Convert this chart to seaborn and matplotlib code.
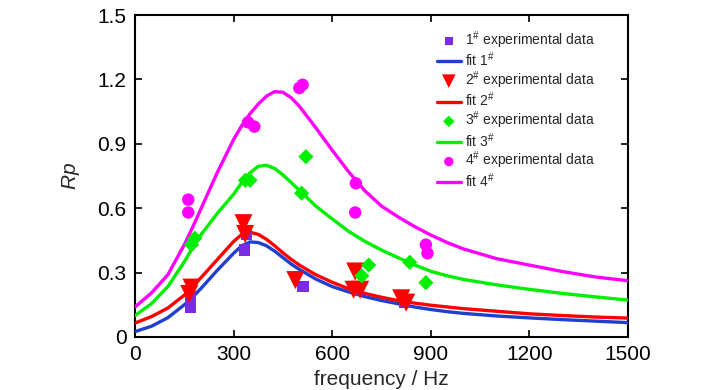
import numpy as np
import pandas as pd
import matplotlib
matplotlib.use("Agg")
import matplotlib.pyplot as plt
import seaborn as sns

# ---- data ----
fit_freq = [0, 50, 100, 150, 175, 200, 250, 300, 325, 350, 375, 400, 425, 450, 475, 500,
            550, 600, 650, 700, 750, 800, 850, 900, 950, 1000, 1100, 1200, 1300, 1400, 1500]
fit1 = [0.025, 0.05, 0.09, 0.15, 0.185, 0.225, 0.31, 0.39, 0.425, 0.443, 0.44, 0.425, 0.40,
        0.37, 0.34, 0.315, 0.27, 0.235, 0.21, 0.188, 0.17, 0.155, 0.14, 0.128, 0.118, 0.11,
        0.098, 0.089, 0.081, 0.074, 0.067]
fit2 = [0.065, 0.095, 0.135, 0.195, 0.235, 0.275, 0.36, 0.445, 0.478, 0.488, 0.478, 0.455,
        0.425, 0.392, 0.362, 0.335, 0.29, 0.255, 0.225, 0.203, 0.185, 0.17, 0.158, 0.148,
        0.14, 0.132, 0.12, 0.108, 0.10, 0.093, 0.088]
fit3 = [0.10, 0.155, 0.235, 0.35, 0.415, 0.475, 0.575, 0.665, 0.72, 0.765, 0.795, 0.80, 0.785,
        0.755, 0.72, 0.683, 0.61, 0.55, 0.492, 0.445, 0.405, 0.37, 0.336, 0.306, 0.285,
        0.268, 0.243, 0.222, 0.203, 0.187, 0.172]
fit4 = [0.14, 0.205, 0.29, 0.43, 0.51, 0.595, 0.765, 0.92, 0.985, 1.04, 1.085, 1.122, 1.143,
        1.14, 1.115, 1.075, 0.975, 0.87, 0.77, 0.68, 0.61, 0.56, 0.515, 0.475, 0.44, 0.41,
        0.365, 0.335, 0.305, 0.28, 0.262]

exp1_f = [170, 170, 332, 340, 511, 680, 820]
exp1_v = [0.14, 0.19, 0.405, 0.48, 0.234, 0.22, 0.16]
exp2_f = [165, 172, 330, 335, 488, 670, 665, 685, 810, 825]
exp2_v = [0.20, 0.23, 0.53, 0.48, 0.265, 0.305, 0.22, 0.22, 0.18, 0.16]
exp3_f = [172, 182, 336, 350, 507, 520, 690, 711, 836, 885]
exp3_v = [0.43, 0.46, 0.73, 0.73, 0.67, 0.84, 0.285, 0.335, 0.348, 0.253]
exp4_f = [162, 162, 344, 363, 500, 510, 672, 670, 885, 890]
exp4_v = [0.64, 0.58, 1.00, 0.98, 1.16, 1.175, 0.716, 0.58, 0.43, 0.39]

xticks = [0, 300, 600, 900, 1200, 1500]
yticks = [0, 0.3, 0.6, 0.9, 1.2, 1.5]
ytick_labels = ["0", "0.3", "0.6", "0.9", "1.2", "1.5"]

colors = ["#1f3fd0", "#ff0000", "#00ee00", "#ff00ff"]
mcolors = ["#7b2be2", "#ff0000", "#00ee00", "#ff00ff"]
markers = ["s", "v", "D", "o"]
msizes = [65, 170, 60, 80]

sns.set_theme(style="white")
plt.rcParams["font.family"] = ["Liberation Sans", "DejaVu Sans"]
plt.rcParams["mathtext.fontset"] = "custom"
plt.rcParams["mathtext.rm"] = "Liberation Sans"
plt.rcParams["mathtext.it"] = "Liberation Sans:italic"

fig = plt.figure(figsize=(7.27, 3.90), dpi=100)
ax = fig.add_axes([135 / 727, 1 - 337 / 390, (628 - 135) / 727, (337 - 15) / 390])

fits = [fit1, fit2, fit3, fit4]
exps = [(exp1_f, exp1_v), (exp2_f, exp2_v), (exp3_f, exp3_v), (exp4_f, exp4_v)]
for i in range(4):
    n = i + 1
    ef, ev = exps[i]
    dfe = pd.DataFrame({"f": ef, "v": ev})
    sns.scatterplot(data=dfe, x="f", y="v", ax=ax, marker=markers[i], s=msizes[i],
                    color=mcolors[i], edgecolor="none", linewidth=0, zorder=4,
                    label=f"{n}$^{{\\#}}$ experimental data")
    dff = pd.DataFrame({"f": fit_freq, "v": fits[i]})
    sns.lineplot(data=dff, x="f", y="v", ax=ax, color=colors[i], linewidth=2.4,
                 zorder=3, label=f"fit {n}$^{{\\#}}$")

ax.set_xlim(0, 1500)
ax.set_ylim(0, 1.5)
ax.set_xticks(xticks)
ax.set_yticks(yticks)
ax.set_yticklabels(ytick_labels)
ax.tick_params(direction="in", length=5, width=1.2, labelsize=15, colors="black",
               top=True, right=True, left=True, bottom=True)
ax.tick_params(axis="x", pad=6)
ax.tick_params(axis="y", pad=6)
for sp in ax.spines.values():
    sp.set_color("black")
    sp.set_linewidth(1.5)
    sp.set_visible(True)
ax.set_xlabel("frequency / Hz", fontsize=15, labelpad=4)
ax.set_ylabel("$Rp$", fontsize=15, labelpad=11)

handles, labels = ax.get_legend_handles_labels()
leg = ax.legend(handles, labels, loc="upper left",
                bbox_to_anchor=(437 / 727, 1 - 29 / 390), bbox_transform=fig.transFigure,
                frameon=False, fontsize=10, handlelength=1.7, handletextpad=0.35,
                labelspacing=0.0, borderpad=0, borderaxespad=0, markerscale=0.75)

fig.savefig("out.png", dpi=100)
